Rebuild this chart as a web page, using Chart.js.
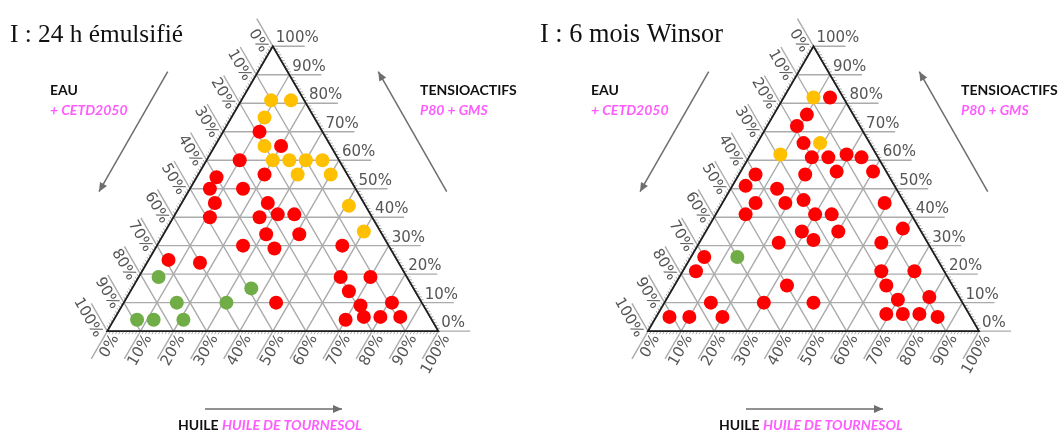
<!DOCTYPE html>
<html lang="fr">
<head>
<meta charset="utf-8">
<title>Diagrammes ternaires</title>
<script src="https://cdn.jsdelivr.net/npm/chart.js@4.4.1/dist/chart.umd.min.js"></script>
<style>
  html, body { margin: 0; padding: 0; background: #fff; overflow: hidden; }
  #wrap { position: relative; width: 1059px; height: 432px; }
  .panel { position: absolute; top: 0; width: 530px; height: 432px; }
  canvas { display: block; }
</style>
</head>
<body>
<div id="wrap">
  <div class="panel" style="left:0"><canvas id="emulsifie" width="530" height="432"></canvas></div>
  <div class="panel" style="left:529px"><canvas id="winsor" width="530" height="432"></canvas></div>
</div>
<script>
// Compositions in % : [eau, huile, tensioactifs]
const emulsifieRouge = [
  [19,11,70],[15,20,65],[30,10,60],[25,20,55],[40,6,54],[44,6,50],[34,16,50],
  [45,10,45],[29,26,45],[49,11,40],[34,26,40],[28,31,41],[23,36,41],[35,31,34],
  [25,41,34],[44,26,30],[35,36,29],[14,56,30],[69,6,25],[60,16,24],[20,61,19],
  [11,70,19],[20,66,14],[44,46,10],[19,72,9],[9,81,10],[26,70,4],[20,75,5],
  [15,80,5],[9,86,5]
];
const emulsifieJaune = [
  [10,9,81],[4,15,81],[15,10,75],[20,15,65],[20,20,60],[15,25,60],[10,30,60],
  [5,35,60],[15,30,55],[5,40,55],[5,51,44],[5,60,35]
];
const emulsifieVert = [
  [75,6,19],[49,36,15],[74,16,10],[59,31,10],[89,7,4],[84,12,4],[75,21,4]
];

const winsorRouge = [
  [4,14,82],[14,10,76],[19,9,72],[20,14,66],[20,19,61],[15,24,61],[9,29,62],
  [5,34,61],[25,20,55],[15,29,56],[4,40,56],[40,5,55],[45,4,51],[36,14,50],
  [45,10,45],[36,19,45],[30,24,46],[6,49,45],[50,9,41],[29,30,41],[24,35,41],
  [36,29,35],[25,40,35],[5,59,36],[45,24,31],[34,34,32],[14,55,31],[70,4,26],
  [75,4,21],[19,60,21],[9,70,21],[50,34,16],[20,64,16],[76,14,10],[60,30,10],
  [45,45,10],[19,70,11],[9,79,12],[91,4,5],[85,10,5],[75,20,5],[25,69,6],
  [20,74,6],[15,79,6],[10,85,5]
];
const winsorJaune = [[9,9,82],[29,9,62],[15,19,66]];
const winsorVert = [[60,14,26]];

// Axis graduations (same on the three sides)
const graduations = [0,10,20,30,40,50,60,70,80,90,100];
const graduationLabels = graduations.map(v => v + '%');

const COLORS = { rouge: '#ff0000', jaune: '#ffc000', vert: '#70ad47' };
const H = Math.sqrt(3) / 2;
const PX_PER_UNIT = 3.4;

// barycentric -> cartesian (base 0..100, apex at 50 / 86.6)
function toXY([e, h, t]) {
  const s = e + h + t;
  return { x: (h + t / 2) * 100 / s, y: t * H * 100 / s };
}

function line(ctx, x0, y0, x1, y1) {
  ctx.beginPath(); ctx.moveTo(x0, y0); ctx.lineTo(x1, y1); ctx.stroke();
}

function arrow(ctx, x0, y0, x1, y1) {
  ctx.strokeStyle = '#6e6e6e'; ctx.fillStyle = '#6e6e6e'; ctx.lineWidth = 1.5;
  line(ctx, x0, y0, x1, y1);
  const a = Math.atan2(y1 - y0, x1 - x0), L = 9, W = 4;
  ctx.beginPath();
  ctx.moveTo(x1, y1);
  ctx.lineTo(x1 - L * Math.cos(a) + W * Math.sin(a), y1 - L * Math.sin(a) - W * Math.cos(a));
  ctx.lineTo(x1 - L * Math.cos(a) - W * Math.sin(a), y1 - L * Math.sin(a) + W * Math.cos(a));
  ctx.closePath(); ctx.fill();
}

const ternaryPlugin = {
  id: 'ternary',
  beforeDatasetsDraw(chart, args, opts) {
    const { ctx, scales: { x, y } } = chart;
    // pixel of a point given huile (h) and tensioactifs (t)
    const P = (h, t) => [x.getPixelForValue(h + t / 2), y.getPixelForValue(t * H)];
    const ext = 32, c60 = 0.5, s60 = H;
    ctx.save();

    // grid + extensions
    ctx.strokeStyle = '#ababab'; ctx.lineWidth = 1.4;
    for (const v of graduations) {
      let [x0, y0] = P(0, v), [x1, y1] = P(100 - v, v);
      line(ctx, x0, y0, x1 + ext, y1);                       // tensioactifs constant
      [x0, y0] = P(v, 0); [x1, y1] = P(v, 100 - v);
      line(ctx, x0 - ext * c60, y0 + ext * s60, x1, y1);     // huile constant
      [x0, y0] = P(0, 100 - v); [x1, y1] = P(100 - v, 0);
      line(ctx, x0 - ext * c60, y0 - ext * s60, x1, y1);     // eau constant
    }

    // minor ticks every 1 %
    ctx.strokeStyle = '#8a8a8a'; ctx.lineWidth = 0.7;
    const tk = 3.5;
    for (let v = 1; v < 100; v++) {
      if (v % 10 === 0) continue;
      let [px, py] = P(100 - v, v);
      line(ctx, px, py, px + tk, py);
      [px, py] = P(v, 0);
      line(ctx, px, py, px - tk * c60, py + tk * s60);
      [px, py] = P(0, 100 - v);
      line(ctx, px, py, px - tk * c60, py - tk * s60);
    }

    // triangle outline
    ctx.strokeStyle = '#1e1e1e'; ctx.lineWidth = 1.8;
    ctx.beginPath();
    ctx.moveTo(...P(0, 0)); ctx.lineTo(...P(100, 0)); ctx.lineTo(...P(0, 100));
    ctx.closePath(); ctx.stroke();

    // graduation labels
    ctx.font = '15px "DejaVu Sans"'; ctx.fillStyle = '#555';
    graduations.forEach((v, i) => {
      const lab = graduationLabels[i];
      let [px, py] = P(100 - v, v);
      ctx.textAlign = 'left'; ctx.textBaseline = 'alphabetic';
      ctx.fillText(lab, px + 3, py - 4);

      [px, py] = P(v, 0);
      ctx.save();
      ctx.translate(px + 9.5 * s60, py + 9.5 * c60);
      ctx.rotate(-Math.PI / 3);
      ctx.textAlign = 'right'; ctx.textBaseline = 'middle';
      ctx.fillText(lab, 0, 0);
      ctx.restore();

      [px, py] = P(0, 100 - v);
      ctx.save();
      ctx.translate(px - 10 * s60, py + 10 * c60);
      ctx.rotate(Math.PI / 3);
      ctx.textAlign = 'right'; ctx.textBaseline = 'middle';
      ctx.fillText(lab, 0, 0);
      ctx.restore();
    });

    // title
    const d = opts.dx;
    ctx.fillStyle = '#111'; ctx.textAlign = 'left'; ctx.textBaseline = 'alphabetic';
    ctx.font = '22px "Liberation Serif"';
    const size = 22 * opts.titleWidth / ctx.measureText(opts.title).width;
    ctx.font = size.toFixed(2) + 'px "Liberation Serif"';
    ctx.fillText(opts.title, opts.titleX, 42);

    // component captions
    const bold = 'bold 14px Lato', boldIt = 'italic bold 14px Lato', pink = '#ff5cff';
    ctx.font = bold; ctx.fillStyle = '#111';
    ctx.fillText('EAU', 50 + d, 95);
    ctx.fillText('TENSIOACTIFS', 420 + d, 95);
    ctx.fillText('HUILE', 178 + d, 430);
    const wH = ctx.measureText('HUILE ').width;
    ctx.font = boldIt; ctx.fillStyle = pink;
    ctx.fillText('+ CETD2050', 50 + d, 115);
    ctx.fillText('P80 + GMS', 420 + d, 115);
    ctx.fillText('HUILE DE TOURNESOL', 178 + d + wH, 430);

    // direction arrows
    arrow(ctx, 167.7 + d, 71.7, 99 + d, 191.7);
    arrow(ctx, 446.7 + d, 191.7, 378.3 + d, 71.7);
    arrow(ctx, 205 + d, 409, 342 + d, 409);

    ctx.restore();
  }
};

function makeChart(id, rouge, jaune, vert, cornerX, title, titleX, titleWidth, dx) {
  const W = 530, Hc = 432, baseY = 335;
  const xmin = -cornerX / PX_PER_UNIT, xmax = xmin + W / PX_PER_UNIT;
  const ymax = baseY / PX_PER_UNIT, ymin = ymax - Hc / PX_PER_UNIT;
  const ds = (label, pts, color) => ({
    label, data: pts.map(toXY), backgroundColor: color, borderWidth: 0,
    pointRadius: 7, pointHoverRadius: 7, clip: false
  });
  return new Chart(document.getElementById(id), {
    type: 'scatter',
    data: {
      datasets: [
        ds('vert', vert, COLORS.vert),
        ds('jaune', jaune, COLORS.jaune),
        ds('rouge', rouge, COLORS.rouge)
      ]
    },
    options: {
      responsive: false, animation: false, devicePixelRatio: 1,
      layout: { padding: 0 },
      events: [],
      scales: {
        x: { type: 'linear', min: xmin, max: xmax, display: false },
        y: { type: 'linear', min: ymin, max: ymax, display: false }
      },
      plugins: {
        legend: { display: false }, tooltip: { enabled: false },
        ternary: { title, titleX, titleWidth, dx }
      }
    },
    plugins: [ternaryPlugin]
  });
}

makeChart('emulsifie', emulsifieRouge, emulsifieJaune, emulsifieVert, 103,
  'I : 24 h émulsifié', 10, 173, 0);
makeChart('winsor', winsorRouge, winsorJaune, winsorVert, 115,
  'I : 6 mois Winsor', 11, 183, 12);
</script>
</body>
</html>
